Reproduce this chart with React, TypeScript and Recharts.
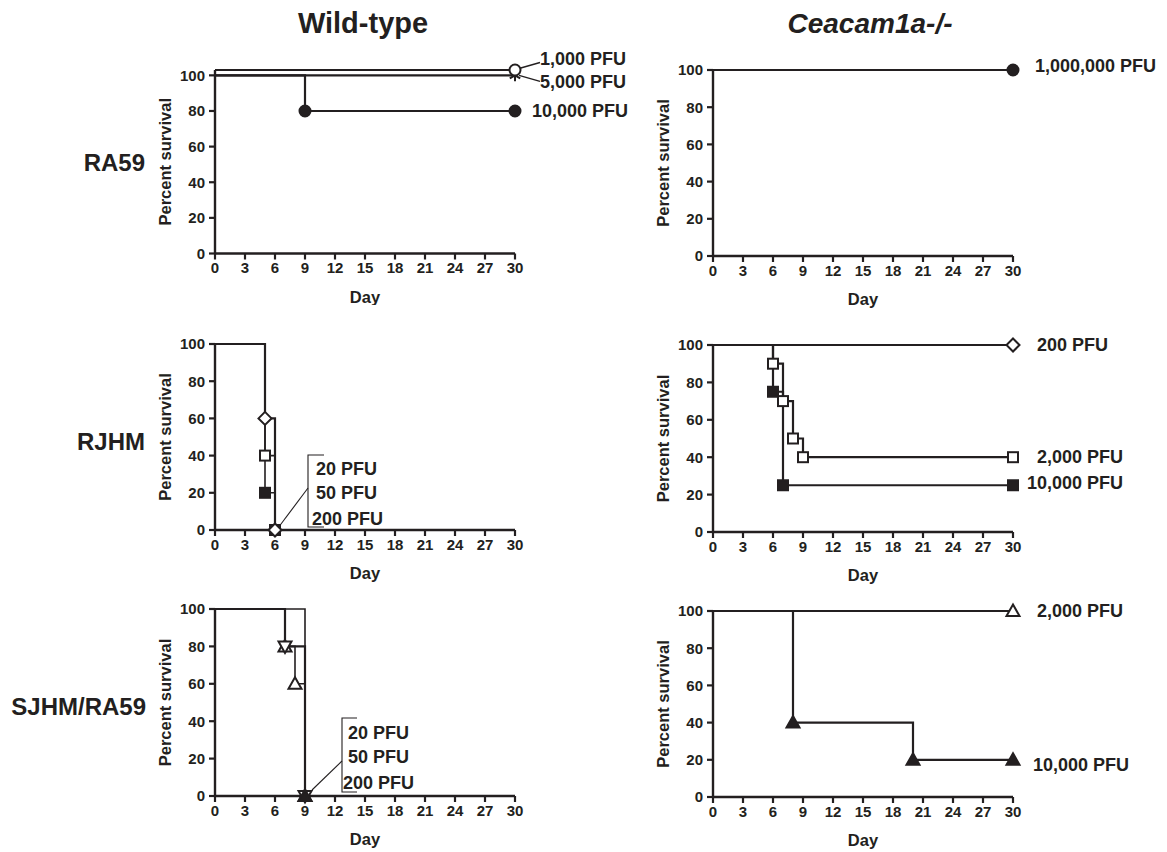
import React from 'react';
import { LineChart, Line, XAxis, YAxis } from 'recharts';

const INK = '#231f20';
const FONT = '"Liberation Sans", Arial, Helvetica, sans-serif';

// ---------- text / ticks ----------
const dayTicks = [0, 3, 6, 9, 12, 15, 18, 21, 24, 27, 30];
const pctTicks = [0, 20, 40, 60, 80, 100];
const columnTitles = ['Wild-type', 'Ceacam1a-/-'];
const rowLabels = ['RA59', 'RJHM', 'SJHM/RA59'];
const xAxisTitle = 'Day';
const yAxisTitle = 'Percent survival';

const wtRa59Labels = ['1,000 PFU', '5,000 PFU', '10,000 PFU'];
const wtRjhmLabels = ['20 PFU', '50 PFU', '200 PFU'];
const wtSjhmLabels = ['20 PFU', '50 PFU', '200 PFU'];
const koRa59Labels = ['1,000,000 PFU'];
const koRjhmLabels = ['200 PFU', '2,000 PFU', '10,000 PFU'];
const koSjhmLabels = ['2,000 PFU', '10,000 PFU'];

// ---------- data (day, percent survival) ----------
// Wild-type, RA59 (1,000 PFU curve drawn slightly above 100 as in the figure)
const wtRa59Pfu1000 = [{ day: 0, pct: 103 }, { day: 30, pct: 103 }];
const wtRa59Pfu5000 = [{ day: 0, pct: 100 }, { day: 30, pct: 100 }];
const wtRa59Pfu10000 = [{ day: 0, pct: 100 }, { day: 9, pct: 80 }, { day: 30, pct: 80 }];

// Wild-type, RJHM
const wtRjhmPfu20 = [{ day: 0, pct: 100 }, { day: 5, pct: 20 }, { day: 6, pct: 0 }];
const wtRjhmPfu50 = [{ day: 0, pct: 100 }, { day: 5, pct: 40 }, { day: 6, pct: 0 }];
const wtRjhmPfu200 = [{ day: 0, pct: 100 }, { day: 5, pct: 60 }, { day: 6, pct: 0 }];

// Wild-type, SJHM/RA59
const wtSjhmPfu20 = [{ day: 0, pct: 100 }, { day: 7, pct: 80 }, { day: 9, pct: 0 }];
const wtSjhmPfu50 = [{ day: 0, pct: 100 }, { day: 7, pct: 80 }, { day: 8, pct: 60 }, { day: 9, pct: 0 }];
const wtSjhmPfu200 = [{ day: 0, pct: 100 }, { day: 9, pct: 0 }];

// Ceacam1a-/-, RA59
const koRa59Pfu1e6 = [{ day: 0, pct: 100 }, { day: 30, pct: 100 }];

// Ceacam1a-/-, RJHM
const koRjhmPfu200 = [{ day: 0, pct: 100 }, { day: 30, pct: 100 }];
const koRjhmPfu2000 = [
  { day: 0, pct: 100 }, { day: 6, pct: 90 }, { day: 7, pct: 70 },
  { day: 8, pct: 50 }, { day: 9, pct: 40 }, { day: 30, pct: 40 },
];
const koRjhmPfu10000 = [{ day: 0, pct: 100 }, { day: 6, pct: 75 }, { day: 7, pct: 25 }, { day: 30, pct: 25 }];

// Ceacam1a-/-, SJHM/RA59
const koSjhmPfu2000 = [{ day: 0, pct: 100 }, { day: 30, pct: 100 }];
const koSjhmPfu10000 = [{ day: 0, pct: 100 }, { day: 8, pct: 40 }, { day: 20, pct: 20 }, { day: 30, pct: 20 }];

// ---------- rendering helpers ----------
type Shape = 'circle' | 'square' | 'diamond' | 'triangle' | 'invTriangle' | 'asterisk';

function Marker({ shape, filled, cx, cy }: { shape: Shape; filled: boolean; cx: number; cy: number }) {
  const fill = filled ? INK : '#ffffff';
  const sw = 2;
  switch (shape) {
    case 'circle':
      return <circle cx={cx} cy={cy} r={5.5} fill={fill} stroke={INK} strokeWidth={sw} />;
    case 'square':
      return <rect x={cx - 5} y={cy - 5} width={10} height={10} fill={fill} stroke={INK} strokeWidth={sw} />;
    case 'diamond': {
      const r = 6.5;
      return (
        <polygon points={`${cx},${cy - r} ${cx + r},${cy} ${cx},${cy + r} ${cx - r},${cy}`}
          fill={fill} stroke={INK} strokeWidth={sw} />
      );
    }
    case 'triangle':
      return (
        <polygon points={`${cx},${cy - 6.5} ${cx + 6.5},${cy + 5} ${cx - 6.5},${cy + 5}`}
          fill={fill} stroke={INK} strokeWidth={sw} />
      );
    case 'invTriangle':
      return (
        <polygon points={`${cx},${cy + 6.5} ${cx + 6.5},${cy - 5} ${cx - 6.5},${cy - 5}`}
          fill={fill} stroke={INK} strokeWidth={sw} />
      );
    case 'asterisk': {
      const r = 6;
      const a = r * Math.cos(Math.PI / 6);
      const b = r * Math.sin(Math.PI / 6);
      return (
        <g stroke={INK} strokeWidth={2}>
          <line x1={cx} y1={cy - r} x2={cx} y2={cy + r} />
          <line x1={cx - a} y1={cy - b} x2={cx + a} y2={cy + b} />
          <line x1={cx - a} y1={cy + b} x2={cx + a} y2={cy - b} />
        </g>
      );
    }
    default:
      return null;
  }
}

function Txt({ x, y, children, size = 18 }: { x: number; y: number; children: React.ReactNode; size?: number }) {
  return (
    <text x={x} y={y} dominantBaseline="central" fill={INK} fontFamily={FONT} fontWeight={700} fontSize={size}>
      {children}
    </text>
  );
}

type Annot =
  | { kind: 'end'; text: string; dx: number; dy: number; leader?: [number, number, number, number] }
  | {
      kind: 'bracket';
      texts: { t: string; dx: number; dy: number }[];
      leader: [number, number, number, number];
      barX: number; barTop: number; barBottom: number; capLen: number;
    };

function renderAnnot(a: Annot, cx: number, cy: number) {
  if (a.kind === 'end') {
    return (
      <g>
        {a.leader && (
          <line x1={cx + a.leader[0]} y1={cy + a.leader[1]} x2={cx + a.leader[2]} y2={cy + a.leader[3]}
            stroke={INK} strokeWidth={1.4} />
        )}
        <Txt x={cx + a.dx} y={cy + a.dy}>{a.text}</Txt>
      </g>
    );
  }
  return (
    <g>
      <line x1={cx + a.leader[0]} y1={cy + a.leader[1]} x2={cx + a.leader[2]} y2={cy + a.leader[3]}
        stroke={INK} strokeWidth={1.1} />
      <polyline
        points={`${cx + a.barX + a.capLen},${cy + a.barTop} ${cx + a.barX},${cy + a.barTop} ${cx + a.barX},${cy + a.barBottom} ${cx + a.barX + a.capLen},${cy + a.barBottom}`}
        fill="none" stroke={INK} strokeWidth={1.1} />
      {a.texts.map((t, i) => (
        <Txt key={i} x={cx + t.dx} y={cy + t.dy}>{t.t}</Txt>
      ))}
    </g>
  );
}

type Series = {
  id: string;
  data: { day: number; pct: number }[];
  shape: Shape;
  filled: boolean;
  width?: number;
  annot?: Annot;
};

const makeDot = (s: Series) => (props: any) => {
  const { cx, cy, index, payload } = props;
  const key = `${s.id}-${index}`;
  if (!payload || payload.day === 0 || cx == null || cy == null) return <g key={key} />;
  const isLast = index === s.data.length - 1;
  return (
    <g key={key}>
      {isLast && s.annot ? renderAnnot(s.annot, cx, cy) : null}
      <Marker shape={s.shape} filled={s.filled} cx={cx} cy={cy} />
    </g>
  );
};

type PanelCfg = { plotX: number; plotY: number; plotH: number; yMax: number; series: Series[] };

function Panel({ cfg }: { cfg: PanelCfg }) {
  const { plotX, plotY, plotH, yMax, series } = cfg;
  const yAxisW = 60;
  const top = 28;
  const xAxisH = 52;
  const right = 150;
  const width = yAxisW + 300 + right;
  const height = top + plotH + xAxisH;
  const tickStyle = { fill: INK, fontSize: 15, fontWeight: 700, fontFamily: FONT };
  return (
    <div style={{ position: 'absolute', left: plotX - yAxisW, top: plotY - top }}>
      <LineChart width={width} height={height} margin={{ top, right, bottom: 0, left: 0 }}>
        <XAxis
          dataKey="day" type="number" domain={[0, 30]} ticks={dayTicks} interval={0}
          height={xAxisH} tickSize={6} tickMargin={3} tick={tickStyle}
          axisLine={{ stroke: INK, strokeWidth: 2.4 }} tickLine={{ stroke: INK, strokeWidth: 2.2 }}
          allowDuplicatedCategory={false}
          label={{ value: xAxisTitle, position: 'insideBottom', offset: 3, fill: INK, fontSize: 16.5, fontWeight: 700, fontFamily: FONT }}
        />
        <YAxis
          type="number" domain={[0, yMax]} ticks={pctTicks} interval={0} width={yAxisW}
          tickSize={6} tickMargin={4} tick={tickStyle}
          axisLine={{ stroke: INK, strokeWidth: 2.4 }} tickLine={{ stroke: INK, strokeWidth: 2.2 }}
          label={{
            value: yAxisTitle, angle: -90, position: 'insideLeft', offset: 10,
            fill: INK, fontSize: 16.5, fontWeight: 700, fontFamily: FONT, style: { textAnchor: 'middle' },
          }}
        />
        {series.map((s) => (
          <Line
            key={s.id} data={s.data} dataKey="pct" type="stepAfter" stroke={INK}
            strokeWidth={s.width ?? 2.2} dot={makeDot(s)} activeDot={false}
            isAnimationActive={false} legendType="none"
          />
        ))}
      </LineChart>
    </div>
  );
}

// ---------- panels (layout + styling) ----------
const panels: PanelCfg[] = [
  {
    plotX: 215, plotY: 69.5, plotH: 183.5, yMax: 103,
    series: [
      { id: 'a10000', data: wtRa59Pfu10000, shape: 'circle', filled: true,
        annot: { kind: 'end', text: wtRa59Labels[2], dx: 17, dy: 0 } },
      { id: 'a5000', data: wtRa59Pfu5000, shape: 'asterisk', filled: true,
        annot: { kind: 'end', text: wtRa59Labels[1], dx: 25, dy: 7, leader: [4, 0, 25, 6] } },
      { id: 'a1000', data: wtRa59Pfu1000, shape: 'circle', filled: false,
        annot: { kind: 'end', text: wtRa59Labels[0], dx: 25, dy: -11.5, leader: [4, -1.5, 25, -7.5] } },
    ],
  },
  {
    plotX: 215, plotY: 344, plotH: 186, yMax: 100,
    series: [
      { id: 'r20', data: wtRjhmPfu20, shape: 'square', filled: true, width: 1.6 },
      { id: 'r50', data: wtRjhmPfu50, shape: 'square', filled: false, width: 1.6 },
      { id: 'r200', data: wtRjhmPfu200, shape: 'diamond', filled: false, width: 2.2,
        annot: {
          kind: 'bracket', leader: [3, -2, 33, -42], barX: 33, barTop: -75, barBottom: -3, capLen: 16,
          texts: [
            { t: wtRjhmLabels[0], dx: 41, dy: -61.5 },
            { t: wtRjhmLabels[1], dx: 41, dy: -37 },
            { t: wtRjhmLabels[2], dx: 37, dy: -11.5 },
          ],
        } },
    ],
  },
  {
    plotX: 215, plotY: 609, plotH: 187, yMax: 100,
    series: [
      { id: 's50', data: wtSjhmPfu50, shape: 'triangle', filled: false, width: 1.6 },
      { id: 's20', data: wtSjhmPfu20, shape: 'invTriangle', filled: false, width: 2.2 },
      { id: 's200', data: wtSjhmPfu200, shape: 'triangle', filled: true, width: 1.6,
        annot: {
          kind: 'bracket', leader: [7, -6, 37, -35], barX: 37, barTop: -78, barBottom: -4, capLen: 15,
          texts: [
            { t: wtSjhmLabels[0], dx: 43, dy: -63 },
            { t: wtSjhmLabels[1], dx: 43, dy: -39 },
            { t: wtSjhmLabels[2], dx: 38, dy: -13 },
          ],
        } },
    ],
  },
  {
    plotX: 713, plotY: 70, plotH: 186, yMax: 100,
    series: [
      { id: 'k1e6', data: koRa59Pfu1e6, shape: 'circle', filled: true,
        annot: { kind: 'end', text: koRa59Labels[0], dx: 22, dy: -4 } },
    ],
  },
  {
    plotX: 713, plotY: 345, plotH: 187, yMax: 100,
    series: [
      { id: 'k200', data: koRjhmPfu200, shape: 'diamond', filled: false,
        annot: { kind: 'end', text: koRjhmLabels[0], dx: 24, dy: 0 } },
      { id: 'k10000', data: koRjhmPfu10000, shape: 'square', filled: true,
        annot: { kind: 'end', text: koRjhmLabels[2], dx: 14, dy: -2 } },
      { id: 'k2000', data: koRjhmPfu2000, shape: 'square', filled: false,
        annot: { kind: 'end', text: koRjhmLabels[1], dx: 24, dy: 0 } },
    ],
  },
  {
    plotX: 713, plotY: 611, plotH: 186, yMax: 100,
    series: [
      { id: 'k2000b', data: koSjhmPfu2000, shape: 'triangle', filled: false,
        annot: { kind: 'end', text: koSjhmLabels[0], dx: 24, dy: 0 } },
      { id: 'k10000b', data: koSjhmPfu10000, shape: 'triangle', filled: true,
        annot: { kind: 'end', text: koSjhmLabels[1], dx: 20, dy: 5 } },
    ],
  },
];

export default function App() {
  return (
    <div style={{ position: 'absolute', left: 0, top: 0, width: 1167, height: 852, background: '#fff', overflow: 'hidden' }}>
      <svg width={1167} height={852} style={{ position: 'absolute', left: 0, top: 0 }}>
        <text x={363} y={33} textAnchor="middle" fill={INK} fontFamily={FONT} fontWeight={700} fontSize={29}>
          {columnTitles[0]}
        </text>
        <text x={870} y={33} textAnchor="middle" fill={INK} fontFamily={FONT} fontWeight={700} fontStyle="italic" fontSize={28}>
          {columnTitles[1]}
        </text>
        <text x={145} y={171} textAnchor="end" fill={INK} fontFamily={FONT} fontWeight={700} fontSize={24}>{rowLabels[0]}</text>
        <text x={145} y={450} textAnchor="end" fill={INK} fontFamily={FONT} fontWeight={700} fontSize={24}>{rowLabels[1]}</text>
        <text x={146} y={715} textAnchor="end" fill={INK} fontFamily={FONT} fontWeight={700} fontSize={24}>{rowLabels[2]}</text>
      </svg>
      {panels.map((p, i) => (
        <Panel key={i} cfg={p} />
      ))}
    </div>
  );
}
